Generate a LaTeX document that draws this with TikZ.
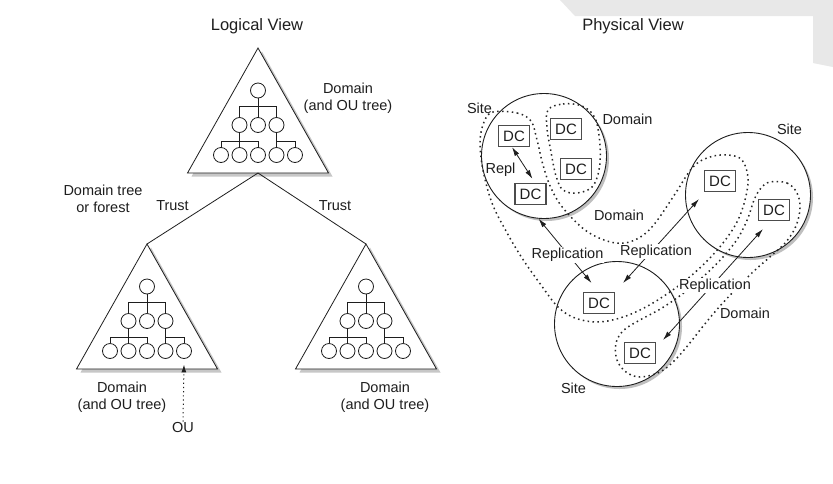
\documentclass[tikz,border=0pt]{standalone}
\usepackage{fontspec}
\setmainfont{Liberation Sans}
\usetikzlibrary{arrows.meta,shadows}

\definecolor{inkgray}{HTML}{1E1E1E}
\definecolor{pagegray}{HTML}{E8E8E8}

\tikzset{
  lbl/.style={font=\fontsize{14.5}{17.5}\selectfont, align=center, inner sep=1pt, text=inkgray},
  ttl/.style={font=\fontsize{16.5}{19}\selectfont, text=inkgray},
  oucirc/.style={circle, draw=inkgray, line width=0.8pt, minimum size=15pt, inner sep=0pt},
  site/.style={circle, draw=inkgray, line width=0.9pt, minimum size=125pt, inner sep=0pt, fill=white,
    drop shadow={shadow xshift=2.5pt, shadow yshift=-2.5pt, fill=black!25, opacity=1}},
  dcbox/.style={draw=black!70, line width=1.3pt, fill=white, minimum width=31pt, minimum height=21pt,
    inner sep=0pt, font=\fontsize{15}{15}\selectfont, text=inkgray},
  domainline/.style={draw=black!85, line width=1.5pt, dash pattern=on 1.5pt off 3.4pt},
  twoway/.style={{Latex[length=9pt,width=5pt]}-{Latex[length=9pt,width=5pt]}, draw=inkgray, line width=0.8pt},
  pics/domaintri/.style={code={
    \filldraw[fill=white, draw=inkgray, line width=0.8pt,
      drop shadow={shadow xshift=4pt, shadow yshift=-3.5pt, fill=black!22, opacity=1}]
      (0,0) coordinate (-apex) -- (-70.5,125) -- (70.5,125) -- cycle;
    \coordinate (-base) at (0,125);
    \node[oucirc] (-r) at (0,42.5) {};
    \foreach \i/\dx in {1/-18.5,2/0,3/18.5}
      \node[oucirc] (-a\i) at (\dx,77) {};
    \foreach \i/\dx in {1/-37,2/-18.5,3/0,4/18.5,5/37}
      \node[oucirc] (-b\i) at (\dx,107) {};
    \draw[inkgray, line width=0.8pt] (-r) -- (-a2);
    \draw[inkgray, line width=0.8pt] (-a1.north) -- ++(0,-11) -| (-a3.north);
    \draw[inkgray, line width=0.8pt] (-a1) -- (-b2);
    \draw[inkgray, line width=0.8pt] (-b1.north) -- ++(0,-6) -| (-b3.north);
    \draw[inkgray, line width=0.8pt] (-a3) -- (-b4);
    \draw[inkgray, line width=0.8pt] (-b4.north) -- ++(0,-6) -| (-b5.north);
  }}
}

\begin{document}
\begin{tikzpicture}[x=1pt, y=-1pt]
  \useasboundingbox[fill=white] (0,0) rectangle (833,483);
  % page corner behind the scan
  \fill[pagegray] (560,0) -- (833,0) -- (833,67) -- (813,63) -- (813,16) -- (575,16) -- cycle;

  % logical view
  \node[ttl] (logview) at (257,26) {Logical View};
  \pic (top) at (258,48) {domaintri};
  \pic (bl) at (147,244) {domaintri};
  \pic (br) at (366,244) {domaintri};
  \draw[inkgray, line width=0.8pt] (top-base) -- (bl-apex);
  \draw[inkgray, line width=0.8pt] (top-base) -- (br-apex);

  \node[lbl] (topdom) at (348,98) {Domain\\(and OU tree)};
  \node[lbl] (bldom) at (122,397) {Domain\\(and OU tree)};
  \node[lbl] (brdom) at (385,397) {Domain\\(and OU tree)};
  \node[lbl] (forest) at (103,199) {Domain tree\\or forest};
  \node[lbl] (trustl) at (172.5,206) {Trust};
  \node[lbl] (trustr) at (335,206) {Trust};
  \node[lbl] (ou) at (183,428) {OU};
  \draw[inkgray, line width=1pt, dash pattern=on 1.2pt off 3pt, -{Latex[length=8pt,width=5pt]}]
    (ou.north) -- ([yshift=-5.5pt]bl-b5.south);

  % physical view
  \node[ttl] (physview) at (633,26) {Physical View};
  \node[site] (s1) at (544,156) {};
  \node[site] (s2) at (748,195) {};
  \node[site] (s3) at (617,324) {};

  % domains
  \draw[domainline] plot[smooth cycle, tension=0.6] coordinates {
    (493,112) (517,113) (531,121) (537,140) (543,165) (551,188) (563,208) (585,230)
    (607,241) (625,243) (642,236) (656,222) (675,194) (693,167) (710,157) (728,155)
    (742,160) (748,178) (745,200) (737,222) (723,243) (706,262) (686,280) (664,296)
    (642,309) (620,318) (597,322) (575,318) (558,307) (541,285) (522,258) (506,231)
    (492,203) (483,170) (480,142) (484,122)};
  \draw[domainline] plot[smooth cycle, tension=0.6] coordinates {
    (548,110) (563,104) (582,106) (595,118) (600,145) (599,170) (592,187) (577,193)
    (563,190) (556,176) (551,152) (547,128)};
  \draw[domainline] plot[smooth cycle, tension=0.6] coordinates {
    (770,182) (787,183) (797,193) (800,208) (796,226) (786,242) (771,256) (754,271)
    (737,288) (720,306) (704,325) (689,344) (675,360) (660,372) (640,377) (626,372)
    (617,360) (616,343) (624,330) (640,320) (662,308) (685,292) (705,275) (723,257)
    (738,238) (748,218) (754,200) (761,188)};

  % domain controllers
  \node[dcbox] (dc1) at (514,136) {DC};
  \node[dcbox] (dc2) at (530.5,194) {DC};
  \node[dcbox] (dc3) at (566,129) {DC};
  \node[dcbox] (dc4) at (576,169) {DC};
  \node[dcbox] (dc5) at (720,181) {DC};
  \node[dcbox] (dc6) at (774,210) {DC};
  \node[dcbox] (dc7) at (599,303) {DC};
  \node[dcbox] (dc8) at (640,353) {DC};

  % replication
  \coordinate (rep1) at (591.5,283);
  \coordinate (rep2a) at (623,283);
  \coordinate (rep2b) at (699,199);
  \coordinate (rep3a) at (763,229);
  \coordinate (rep3b) at (663,340);
  \draw[twoway] ([xshift=-2pt]dc1.south) -- ([xshift=2pt,yshift=4pt]dc2.north);
  \draw[twoway] (s1.-95) -- (rep1);
  \draw[twoway] (rep2a) -- (rep2b);
  \draw[twoway] (rep3a) -- (rep3b);

  \node[lbl] (site1) at (479.5,108) {Site};
  \node[lbl] (site2) at (789.5,129) {Site};
  \node[lbl] (site3) at (573.5,388) {Site};
  \node[lbl] (dom1) at (627.5,119) {Domain};
  \node[lbl] (dom2) at (619,215) {Domain};
  \node[lbl] (dom3) at (745,313) {Domain};
  \node[lbl] (repl) at (500.5,170) {Repl};
  \node[lbl, fill=white] (repl1) at (567.5,255) {Replication};
  \node[lbl, fill=white] (repl2) at (656,251.5) {Replication};
  \node[lbl, fill=white] (repl3) at (715,285.5) {Replication};
\end{tikzpicture}
\end{document}
